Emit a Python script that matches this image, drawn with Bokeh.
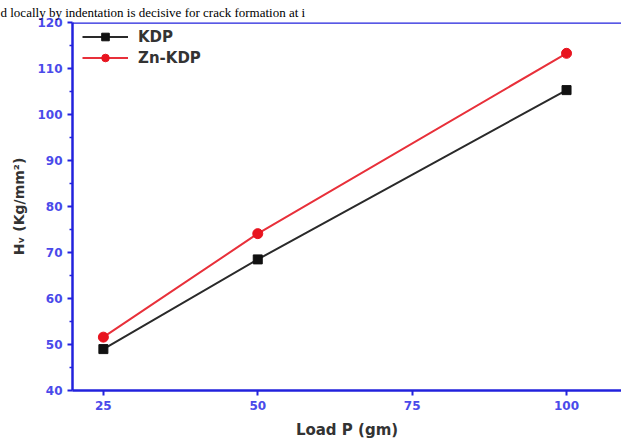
from bokeh.plotting import figure
from bokeh.models import Range1d, FixedTicker, Legend, LegendItem, Span
from bokeh.embed import file_html
from bokeh.resources import INLINE

loads = [25, 50, 100]
kdp = [49.0, 68.5, 105.3]
znkdp = [51.6, 74.1, 113.3]
x_ticks = [25, 50, 75, 100]
y_ticks = [40, 50, 60, 70, 80, 90, 100, 110, 120]
y_minor = [45, 55, 65, 75, 85, 95, 105, 115]
caption = "d locally by indentation is decisive for crack formation at i"

BLUE = "#2222dd"
LBLUE = "#4a4aea"
FONT = "DejaVu Sans"

W, H = 621, 441
p = figure(width=W, height=H, output_backend="svg", toolbar_location=None,
           x_range=Range1d(20.0, 108.9), y_range=Range1d(40, 120),
           min_border_left=72, min_border_right=0, min_border_top=20, min_border_bottom=50)
p.grid.visible = False
p.outline_line_color = None
p.background_fill_color = "white"

# caption from the page above the chart
p.title.text = caption
p.title.text_font = "Liberation Serif"
p.title.text_font_size = "13px"
p.title.text_font_style = "normal"
p.title.text_color = "black"
p.title.align = "left"
p.title.offset = -72
p.title.standoff = 5

for ax in (p.xaxis[0], p.yaxis[0]):
    ax.axis_line_color = BLUE
    ax.axis_line_width = 2.5
    ax.major_tick_line_color = BLUE
    ax.major_tick_line_width = 2
    ax.minor_tick_line_color = BLUE
    ax.minor_tick_line_width = 1.5
    ax.major_tick_in = 0
    ax.major_tick_out = 5
    ax.minor_tick_in = 0
    ax.minor_tick_out = 3
    ax.major_label_text_color = LBLUE
    ax.major_label_text_font = FONT
    ax.major_label_text_font_style = "bold"
    ax.major_label_text_font_size = "12px"
    ax.axis_label_text_color = "#333333"
    ax.axis_label_text_font = FONT
    ax.axis_label_text_font_style = "bold"

p.xaxis.ticker = FixedTicker(ticks=x_ticks)
p.xaxis.minor_tick_line_color = None
p.yaxis.ticker = FixedTicker(ticks=y_ticks, minor_ticks=y_minor)
p.xaxis.axis_label = "Load P (gm)"
p.yaxis.axis_label = "Hᵥ (Kg/mm²)"
p.xaxis.axis_label_text_font_size = "15px"
p.yaxis.axis_label_text_font_size = "14px"
p.xaxis.major_label_standoff = 5
p.xaxis.axis_label_standoff = 8
p.yaxis.axis_label_standoff = 7

p.add_layout(Span(location=120, dimension="width", line_color=BLUE, line_width=2.5))

r1 = p.line(loads, kdp, line_color="#2a2a2a", line_width=2)
s1 = p.scatter(loads, kdp, marker="square", size=9, fill_color="#111111", line_color="#111111")
r2 = p.line(loads, znkdp, line_color="#e8303a", line_width=2)
s2 = p.scatter(loads, znkdp, marker="circle", size=10, fill_color="#e8141f", line_color="#e8141f")

legend = Legend(items=[LegendItem(label="KDP", renderers=[r1, s1]),
                       LegendItem(label="Zn-KDP", renderers=[r2, s2])],
                location=(10, 323), border_line_color=None, background_fill_alpha=0,
                label_text_font=FONT, label_text_font_style="bold",
                label_text_font_size="15px", label_text_color="#333333",
                glyph_width=46, glyph_height=19, spacing=2, margin=0, padding=0,
                label_standoff=10)
p.add_layout(legend)

open("out.html", "w").write(file_html(p, INLINE))
